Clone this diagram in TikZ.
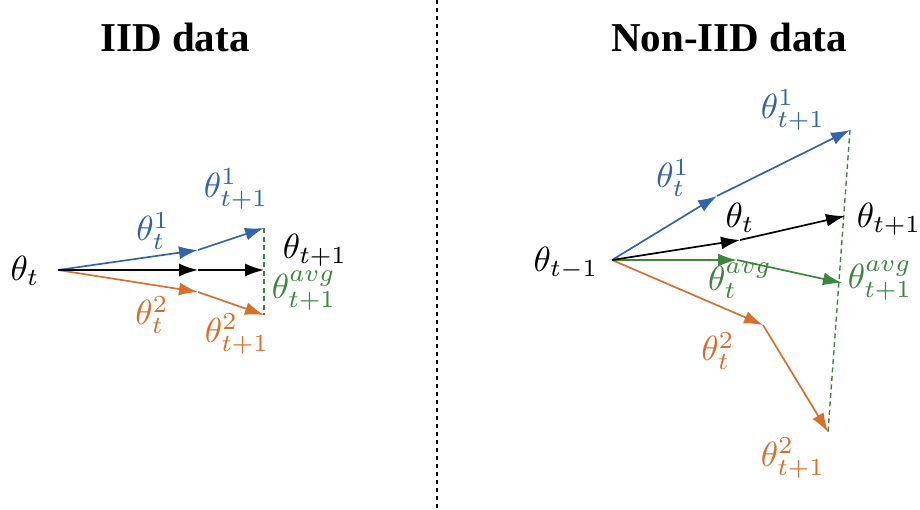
\documentclass[tikz,border=0pt]{standalone}
\usepackage{graphicx}
\usepackage{fontspec}
\newfontfamily\titlefont{Liberation Serif}
\usetikzlibrary{arrows.meta}
\definecolor{cblue}{RGB}{52,100,168}
\definecolor{corange}{RGB}{214,112,46}
\definecolor{cgreen}{RGB}{60,135,60}
\newcommand{\mymath}[1]{\scalebox{3.5}{$#1$}}
\tikzset{
  vec/.style={line width=1.7pt,-{Latex[length=19pt,width=13pt]}},
  lab/.style={inner sep=0pt},
  ttl/.style={inner sep=0pt,font=\fontsize{41}{48}\selectfont\titlefont\bfseries},
  avgline/.style={cgreen,line width=1.4pt,dash pattern=on 5pt off 3.5pt},
}
\begin{document}
\begin{tikzpicture}[x=1pt,y=-1pt]
\useasboundingbox (0,0) rectangle (920,509);
% titles
\node[ttl] (t1) at (175,37) {IID data};
\node[ttl] (t2) at (729,37) {Non-IID data};
% divider
\coordinate (dtop) at (437,0);
\coordinate (dbot) at (437,509);
\draw[line width=1.2pt,dash pattern=on 4pt off 4pt] (dtop) -- (dbot);

% ---------- left panel ----------
\coordinate (L0) at (58,270);
\coordinate (Lb1) at (198,250);
\coordinate (Lb2) at (264,228);
\coordinate (Lk1) at (198,270);
\coordinate (Lk2) at (264,270);
\coordinate (Lo1) at (198,292);
\coordinate (Lo2) at (264,315);
\draw[avgline] (Lb2) -- (Lo2);
\draw[vec,cblue] (L0) -- (Lb1);
\draw[vec,cblue] (Lb1) -- (Lb2);
\draw[vec,corange] (L0) -- (Lo1);
\draw[vec,corange] (Lo1) -- (Lo2);
\draw[vec,black] (L0) -- (Lk1);
\draw[vec,black] (Lk1) -- (Lk2);
\node[lab] (lt) at (25,271) {\mymath{\theta_t}};
\node[lab,cblue] (lb2) at (236,189) {\mymath{\theta^1_{t+1}}};
\node[lab,cblue] (lb1) at (153,231) {\mymath{\theta^1_t}};
\node[lab] (lk2) at (315,250) {\mymath{\theta_{t+1}}};
\node[lab,cgreen] (lg2) at (304,291) {\mymath{\theta^{avg}_{t+1}}};
\node[lab,corange] (lo1) at (152,315) {\mymath{\theta^2_t}};
\node[lab,corange] (lo2) at (237,334) {\mymath{\theta^2_{t+1}}};

% ---------- right panel ----------
\coordinate (R0) at (612,260);
\coordinate (Rb1) at (717,196);
\coordinate (Rb2) at (850,130);
\coordinate (Rk1) at (740,240);
\coordinate (Rk2) at (845,216);
\coordinate (Rg1) at (737,260);
\coordinate (Rg2) at (842,283);
\coordinate (Ro1) at (763,325);
\coordinate (Ro2) at (828,432);
\draw[avgline] (Rb2) -- (Ro2);
\draw[vec,cblue] (R0) -- (Rb1);
\draw[vec,cblue] (Rb1) -- (Rb2);
\draw[vec,corange] (R0) -- (Ro1);
\draw[vec,corange] (Ro1) -- (Ro2);
\draw[vec,cgreen] (R0) -- (Rg1);
\draw[vec,cgreen] (Rg1) -- (Rg2);
\draw[vec,black] (R0) -- (Rk1);
\draw[vec,black] (Rk1) -- (Rk2);
\node[lab] (rt) at (566,263) {\mymath{\theta_{t-1}}};
\node[lab,cblue] (rb2) at (793,110) {\mymath{\theta^1_{t+1}}};
\node[lab,cblue] (rb1) at (673,178) {\mymath{\theta^1_t}};
\node[lab] (rk1) at (740,218) {\mymath{\theta_t}};
\node[lab] (rk2) at (889,219) {\mymath{\theta_{t+1}}};
\node[lab,cgreen] (rg1) at (740,281) {\mymath{\theta^{avg}_t}};
\node[lab,cgreen] (rg2) at (880,281) {\mymath{\theta^{avg}_{t+1}}};
\node[lab,corange] (ro1) at (718,351) {\mymath{\theta^2_t}};
\node[lab,corange] (ro2) at (793,458) {\mymath{\theta^2_{t+1}}};
\end{tikzpicture}
\end{document}
